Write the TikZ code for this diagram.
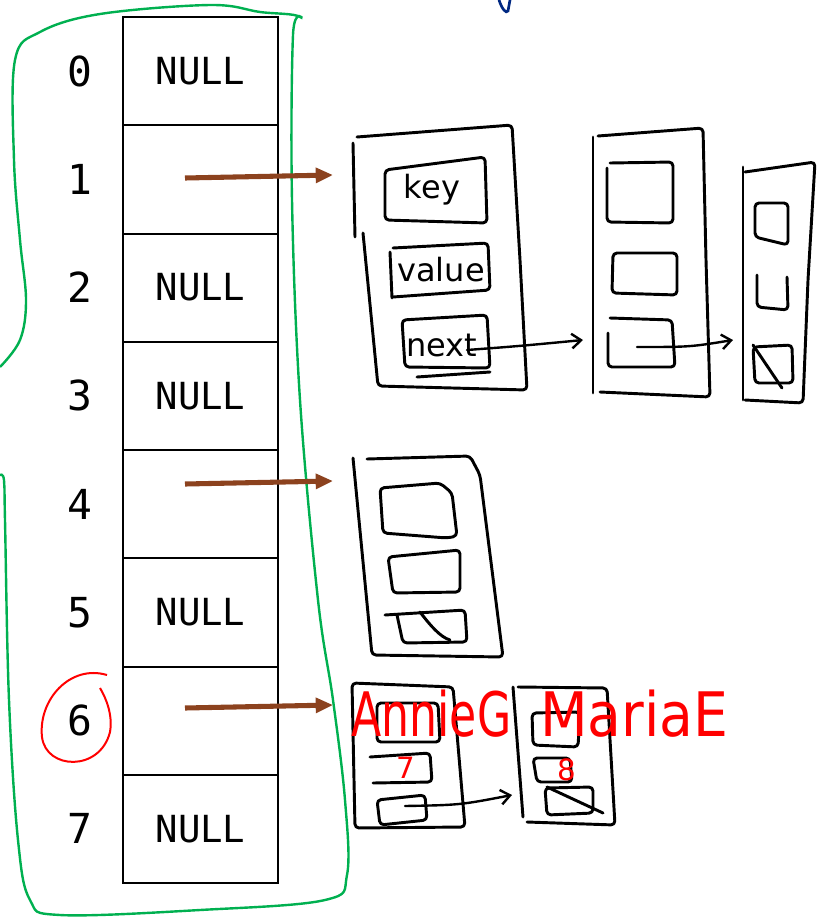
\documentclass[tikz,border=0pt]{standalone}
\usepackage{fontspec}
\setmainfont{DejaVu Sans}
\newfontfamily\tablefont{DejaVu Sans Mono}
\usetikzlibrary{arrows.meta}
\definecolor{bucketbrown}{RGB}{140,66,30}
\definecolor{loopgreen}{RGB}{0,176,80}
\definecolor{inkblue}{RGB}{0,40,130}

\begin{document}
\begin{tikzpicture}[x=0.75pt, y=-0.75pt,
  cell/.style={draw, line width=1.5pt, minimum width=116.25pt, minimum height=81.19pt, inner sep=0pt, font=\tablefont\fontsize{28}{28}\selectfont},
  idx/.style={font=\tablefont\fontsize{31}{31}\selectfont},
  hand/.style={line width=2.2pt, line cap=round, line join=round, rounded corners=3pt},
  handarrow/.style={line width=1.8pt, line cap=round, -{Straight Barb[length=7pt,width=11pt,line width=1.8pt]}},
  bucketarrow/.style={bucketbrown, line width=3.8pt, -{Triangle[length=13pt,width=11pt]}},
  field/.style={font=\fontsize{24}{24}\selectfont},
  redtext/.style={red, font=\fontsize{46}{46}\selectfont, transform shape}]
\useasboundingbox (0,0) rectangle (827,918);

% buckets
\foreach \i/\t in {0/NULL,1/,2/NULL,3/NULL,4/,5/NULL,6/,7/NULL} {
  \node[cell] (cell\i) at (200.5,{71.125+108.25*\i}) {\t};
  \node[idx] (idx\i) at (80,{71.125+108.25*\i}) {\i};
}

% green loop round the table
\draw[loopgreen, line width=1.8pt] plot[smooth, tension=0.6] coordinates {
  (0,367) (20,340) (26,300) (20,240) (14,160) (15,60) (40,32) (100,14) (210,5)
  (260,12) (300,17) (293,35) (292,200) (300,400) (318,600) (333,700) (345,800)
  (347,875) (325,900) (200,910) (60,915) (30,900) (18,840) (9,700) (5,520) (4,480) (0,475)};

% red circle on 6
\draw[red, line width=1.5pt] (107,675) .. controls (70,664) and (38,700) .. (42,737)
  .. controls (46,770) and (100,772) .. (110,732) .. controls (113,715) and (106,698) .. (100,688);

% blue mark at the top
\draw[inkblue, line width=2pt, line cap=round] (499,0) .. controls (502,9) and (506,14) .. (508,11) -- (510,0);

% chain of bucket 1
\draw[hand] (357,137) -- (512,125) -- (520,260) -- (527,390) -- (378,386) -- (363,233);
\draw[hand] (353,143) -- (355,237);
\draw[hand] (385,170) -- (485,157) -- (487,223) -- (385,220) -- cycle;
\draw[hand] (393,248) -- (488,243) -- (490,290) -- (393,297);
\draw[hand] (390,252) -- (392,298);
\draw[hand] (402,320) -- (487,315) -- (490,368) -- (405,367) -- cycle;
\draw[hand] (417,377) -- (490,372);
\node[field] (key) at (432,190) {key};
\node[field] (value) at (441,270) {value};
\node[field] (next) at (442,345) {next};

\draw[hand] (593,137) -- (593,393);
\draw[hand] (598,136) -- (703,128) -- (706,260) -- (710,397) -- (600,392);
\draw[hand] (607,168) -- (607,222) -- (673,223) -- (673,162) -- (610,163);
\draw[hand] (613,253) -- (677,253) -- (677,295) -- (612,293) -- cycle;
\draw[hand] (610,318) -- (672,320) -- (675,367) -- (608,367) -- (608,333);
\draw[hand] (743,167) -- (743,400);
\draw[hand] (745,172) -- (815,162) -- (808,280) -- (803,403) -- (745,400);
\draw[hand] (755,203) -- (788,203) -- (788,245) -- (755,237) -- cycle;
\draw[hand] (757,275) -- (757,307) -- (788,310) -- (787,277);
\draw[hand] (753,347) -- (792,345) -- (793,383) -- (755,383) -- cycle;
\draw[hand] (753,345) -- (782,388);

\coordinate (Anext) at (467,350);
\coordinate (Bin) at (583,340);
\coordinate (Bnext) at (637,347);
\coordinate (Cin) at (733,340);
\draw[handarrow] (Anext) .. controls (520,346) .. (Bin);
\draw[handarrow] (Bnext) .. controls (690,347) .. (Cin);

% chain of bucket 4
\draw[hand] (353,458) -- (372,655) -- (503,657) -- (480,475) -- (470,456) -- (367,459);
\draw[hand] (380,488) -- (440,483) -- (452,493) -- (457,536) -- (447,538) -- (383,533) -- cycle;
\draw[hand] (388,557) -- (460,550) -- (460,592) -- (393,593) -- cycle;
\draw[hand] (385,615) -- (465,610) -- (467,642) -- (403,643) -- (397,615);
\draw[hand] (420,612) .. controls (430,625) and (440,637) .. (450,640);

% chain of bucket 6
\draw[hand] (352,683) -- (453,687) -- (465,827) -- (355,828) -- cycle;
\draw[hand] (377,703) -- (438,703) -- (440,742) -- (377,742) -- cycle;
\draw[hand] (370,757) -- (430,753) -- (432,782) -- (373,783);
\draw[hand] (377,800) -- (425,795) -- (427,820) -- (380,825) -- cycle;
\draw[hand] (513,687) -- (523,817);
\draw[hand] (518,687) -- (607,688) -- (615,825) -- (527,822);
\draw[hand] (532,713) -- (580,712) -- (578,747) -- (533,745) -- cycle;
\draw[hand] (533,758) -- (570,758) -- (572,782) -- (537,782) -- cycle;
\draw[hand] (545,788) -- (593,787) -- (593,813) -- (547,815) -- cycle;
\draw[hand] (547,787) -- (603,813);

\coordinate (Enext) at (405,806);
\coordinate (Fin) at (512,795);
\draw[handarrow] (Enext) .. controls (460,805) .. (Fin);

\node[redtext, xscale=0.72, anchor=base west] (annie) at (348,736) {AnnieG};
\node[redtext, xscale=0.9, anchor=base west] (maria) at (536,736) {MariaE};
\node[red, font=\fontsize{22}{22}\selectfont] (seven) at (406,768) {7};
\node[red, font=\fontsize{22}{22}\selectfont] (eight) at (567,770) {8};

% bucket pointers
\coordinate (p1) at (185,178);
\coordinate (Ain) at (333,175);
\coordinate (p4) at (185,484);
\coordinate (Din) at (333,481);
\coordinate (p6) at (185,708);
\coordinate (Ein) at (333,705);
\draw[bucketarrow] (p1) -- (Ain);
\draw[bucketarrow] (p4) -- (Din);
\draw[bucketarrow] (p6) -- (Ein);
\end{tikzpicture}
\end{document}
